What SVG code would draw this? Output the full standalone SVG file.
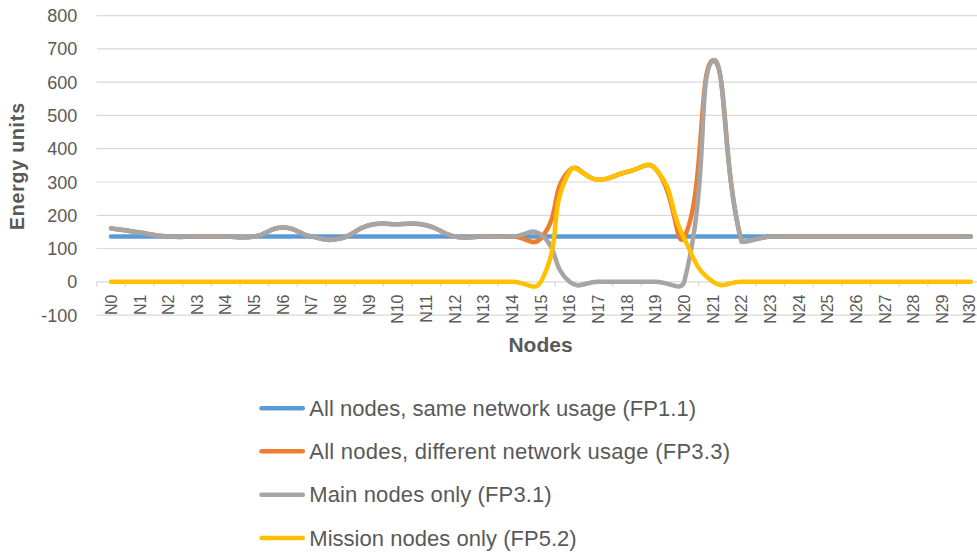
<svg xmlns="http://www.w3.org/2000/svg" width="977" height="553" viewBox="0 0 977 553">
  <style>
    .grid { stroke: #d9d9d9; stroke-width: 1.2; fill: none; }
    .tick { font-family: "Liberation Sans", Arial, sans-serif; font-size: 18px; fill: #595959; text-anchor: end; }
    .cat { font-family: "Liberation Sans", Arial, sans-serif; font-size: 16px; fill: #595959; text-anchor: end; }
    .title { font-family: "Liberation Sans", Arial, sans-serif; font-weight: bold; fill: #595959; text-anchor: middle; }
    .leg { font-family: "Liberation Sans", Arial, sans-serif; font-size: 22px; fill: #595959; }
    .series { fill: none; stroke-width: 4.5; stroke-linecap: round; stroke-linejoin: round; }
    .blue { stroke: #5b9bd5; }
    .orange { stroke: #ed7d31; }
    .gray { stroke: #a5a5a5; }
    .yellow { stroke: #ffc000; }
  </style>
  <rect width="977" height="553" fill="#ffffff"/>

  <!-- value gridlines -->
  <g id="gridlines" class="grid">
    <line x1="96.7" y1="15.6" x2="977" y2="15.6"/>
    <line x1="96.7" y1="48.9" x2="977" y2="48.9"/>
    <line x1="96.7" y1="82.2" x2="977" y2="82.2"/>
    <line x1="96.7" y1="115.4" x2="977" y2="115.4"/>
    <line x1="96.7" y1="148.7" x2="977" y2="148.7"/>
    <line x1="96.7" y1="182.0" x2="977" y2="182.0"/>
    <line x1="96.7" y1="215.3" x2="977" y2="215.3"/>
    <line x1="96.7" y1="248.5" x2="977" y2="248.5"/>
    <line x1="96.7" y1="315.1" x2="977" y2="315.1"/>
  </g>

  <!-- category axis at zero with tick marks -->
  <g id="category-axis" class="grid">
    <line x1="96.7" y1="281.8" x2="977" y2="281.8"/>
    <path d="M96.7,281.8v5 M125.4,281.8v5 M154.0,281.8v5 M182.7,281.8v5 M211.3,281.8v5 M240.0,281.8v5 M268.7,281.8v5 M297.3,281.8v5 M326.0,281.8v5 M354.6,281.8v5 M383.3,281.8v5 M412.0,281.8v5 M440.6,281.8v5 M469.3,281.8v5 M497.9,281.8v5 M526.6,281.8v5 M555.3,281.8v5 M583.9,281.8v5 M612.6,281.8v5 M641.2,281.8v5 M669.9,281.8v5 M698.6,281.8v5 M727.2,281.8v5 M755.9,281.8v5 M784.5,281.8v5 M813.2,281.8v5 M841.9,281.8v5 M870.5,281.8v5 M899.2,281.8v5 M927.8,281.8v5 M956.5,281.8v5"/>
  </g>

  <!-- value axis labels -->
  <g id="value-labels" class="tick">
    <text x="77.3" y="22.1">800</text>
    <text x="77.3" y="55.4">700</text>
    <text x="77.3" y="88.7">600</text>
    <text x="77.3" y="121.9">500</text>
    <text x="77.3" y="155.2">400</text>
    <text x="77.3" y="188.5">300</text>
    <text x="77.3" y="221.8">200</text>
    <text x="77.3" y="255.0">100</text>
    <text x="77.3" y="288.3">0</text>
    <text x="77.3" y="321.6">-100</text>
  </g>

  <!-- category labels (rotated) -->
  <g id="category-labels" class="cat">
    <text transform="translate(116.8,294.5) rotate(-90)">N0</text>
    <text transform="translate(145.5,294.5) rotate(-90)">N1</text>
    <text transform="translate(174.1,294.5) rotate(-90)">N2</text>
    <text transform="translate(202.8,294.5) rotate(-90)">N3</text>
    <text transform="translate(231.4,294.5) rotate(-90)">N4</text>
    <text transform="translate(260.1,294.5) rotate(-90)">N5</text>
    <text transform="translate(288.8,294.5) rotate(-90)">N6</text>
    <text transform="translate(317.4,294.5) rotate(-90)">N7</text>
    <text transform="translate(346.1,294.5) rotate(-90)">N8</text>
    <text transform="translate(374.7,294.5) rotate(-90)">N9</text>
    <text transform="translate(403.4,294.5) rotate(-90)">N10</text>
    <text transform="translate(432.1,294.5) rotate(-90)">N11</text>
    <text transform="translate(460.7,294.5) rotate(-90)">N12</text>
    <text transform="translate(489.4,294.5) rotate(-90)">N13</text>
    <text transform="translate(518.0,294.5) rotate(-90)">N14</text>
    <text transform="translate(546.7,294.5) rotate(-90)">N15</text>
    <text transform="translate(575.4,294.5) rotate(-90)">N16</text>
    <text transform="translate(604.0,294.5) rotate(-90)">N17</text>
    <text transform="translate(632.7,294.5) rotate(-90)">N18</text>
    <text transform="translate(661.3,294.5) rotate(-90)">N19</text>
    <text transform="translate(690.0,294.5) rotate(-90)">N20</text>
    <text transform="translate(718.7,294.5) rotate(-90)">N21</text>
    <text transform="translate(747.3,294.5) rotate(-90)">N22</text>
    <text transform="translate(776.0,294.5) rotate(-90)">N23</text>
    <text transform="translate(804.6,294.5) rotate(-90)">N24</text>
    <text transform="translate(833.3,294.5) rotate(-90)">N25</text>
    <text transform="translate(862.0,294.5) rotate(-90)">N26</text>
    <text transform="translate(890.6,294.5) rotate(-90)">N27</text>
    <text transform="translate(919.3,294.5) rotate(-90)">N28</text>
    <text transform="translate(947.9,294.5) rotate(-90)">N29</text>
    <text transform="translate(975.0,294.5) rotate(-90)">N30</text>
  </g>

  <!-- axis titles -->
  <g id="axis-titles" class="title">
    <text transform="translate(24.2,166.5) rotate(-90)" font-size="19.5" textLength="127">Energy units</text>
    <text x="540.5" y="351.7" font-size="21">Nodes</text>
  </g>

  <!-- data series (smoothed lines) -->
  <g id="series">
    <path id="fp11" class="series blue" d="M111.0,236.6 L970.8,236.6"/>
    <path id="fp33" class="series orange" d="M111.0,228.2 C125.4,230.4 125.4,230.5 139.7,232.6 C154.0,234.7 154.0,235.6 168.3,236.6 C182.6,237.6 182.6,236.6 197.0,236.6 L225.6,236.6 C239.9,236.6 240.0,238.9 254.3,236.6 C268.6,234.4 268.6,227.6 283.0,227.6 C297.3,227.6 297.3,233.9 311.6,236.6 C326.0,239.3 326.0,241.4 340.3,238.5 C354.6,235.7 354.6,228.8 368.9,225.2 C383.2,221.6 383.3,224.2 397.6,224.2 C411.9,224.2 412.0,222.1 426.3,225.2 C440.6,228.3 440.6,233.8 454.9,236.6 C469.2,239.5 469.3,236.6 483.6,236.6 C497.9,236.6 497.9,236.0 512.2,236.6 C526.5,237.0 533.0,247.6 540.9,238.2 C561.7,214.1 549.3,190.8 569.6,170.0 C577.9,161.5 583.6,179.2 598.2,179.7 C612.3,180.2 612.3,174.8 626.9,172.0 C641.0,169.3 647.5,159.6 655.5,168.7 C676.1,192.2 675.8,253.1 684.2,237.2 C704.5,199.0 698.7,59.5 712.9,60.6 C727.4,61.7 722.0,165.0 741.5,241.5 C745.4,243.5 755.9,237.8 770.2,236.6 L970.8,236.6"/>
    <path id="fp31" class="series gray" d="M111.0,228.2 C125.4,230.4 125.4,230.5 139.7,232.6 C154.0,234.7 154.0,235.6 168.3,236.6 C182.6,237.6 182.6,236.6 197.0,236.6 L225.6,236.6 C239.9,236.6 240.0,238.9 254.3,236.6 C268.6,234.4 268.6,227.6 283.0,227.6 C297.3,227.6 297.3,233.9 311.6,236.6 C326.0,239.3 326.0,241.4 340.3,238.5 C354.6,235.7 354.6,228.8 368.9,225.2 C383.2,221.6 383.3,224.2 397.6,224.2 C411.9,224.2 412.0,222.1 426.3,225.2 C440.6,228.3 440.6,233.8 454.9,236.6 C469.2,239.5 469.3,236.6 483.6,236.6 C497.9,236.6 497.9,237.1 512.2,236.6 C526.5,236.1 531.1,226.9 540.9,234.6 C559.8,249.5 550.8,266.3 569.6,281.8 C579.4,289.9 583.9,281.8 598.2,281.8 L655.5,281.8 C669.8,281.8 681.4,292.5 684.2,281.8 C709.6,183.8 697.2,71.7 712.9,60.6 C725.8,51.5 722.0,165.0 741.5,241.5 C745.4,243.5 755.9,237.8 770.2,236.6 L970.8,236.6"/>
    <path id="fp52" class="series yellow" d="M111.0,281.8 L512.2,281.8 C526.5,281.8 535.2,292.7 540.9,281.8 C563.9,237.6 546.9,211.7 569.6,171.3 C575.6,160.7 583.9,179.5 598.2,179.7 C612.3,179.9 612.3,174.8 626.9,172.0 C641.0,169.3 647.6,159.5 655.5,168.7 C676.2,192.8 667.2,205.0 684.2,238.5 C695.9,261.5 694.5,267.9 712.9,281.8 C723.1,289.5 727.2,281.8 741.5,281.8 L970.8,281.8"/>
  </g>

  <!-- legend -->
  <g id="legend">
    <g id="legend-fp11">
      <line class="series blue" x1="261.5" y1="408.3" x2="302.8" y2="408.3"/>
      <text class="leg" x="309.3" y="416" textLength="386.7">All nodes, same network usage (FP1.1)</text>
    </g>
    <g id="legend-fp33">
      <line class="series orange" x1="261.5" y1="451.2" x2="302.8" y2="451.2"/>
      <text class="leg" x="309.3" y="458.9" textLength="420.7">All nodes, different network usage (FP3.3)</text>
    </g>
    <g id="legend-fp31">
      <line class="series gray" x1="261.5" y1="494.7" x2="302.8" y2="494.7"/>
      <text class="leg" x="309.3" y="502.4" textLength="242.4">Main nodes only (FP3.1)</text>
    </g>
    <g id="legend-fp52">
      <line class="series yellow" x1="261.5" y1="538.0" x2="302.8" y2="538.0"/>
      <text class="leg" x="309.3" y="545.7" textLength="267.4">Mission nodes only (FP5.2)</text>
    </g>
  </g>
</svg>
